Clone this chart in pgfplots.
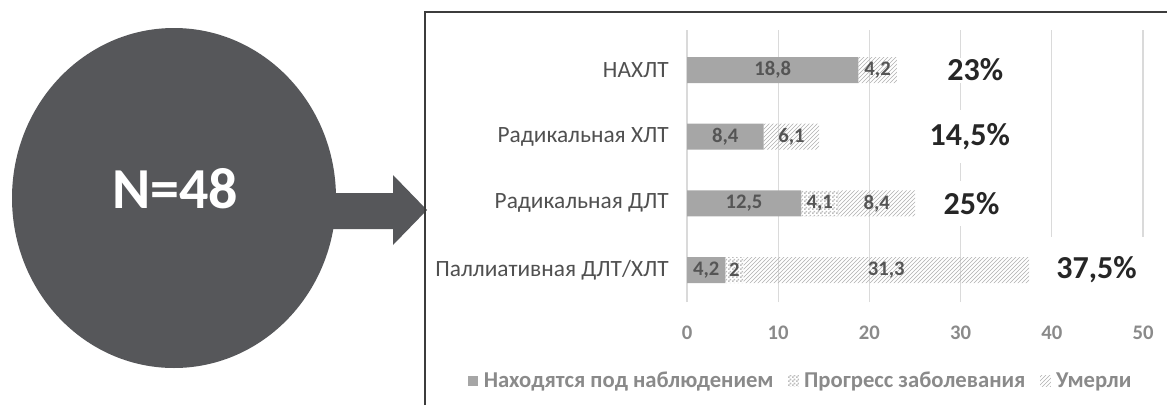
\documentclass[border=0pt]{standalone}
\usepackage{fontspec}
\setmainfont{Carlito}
\usepackage{pgfplots}
\pgfplotsset{compat=1.18}
\usepackage{pgfplotstable}
\usetikzlibrary{patterns}

% fine checkerboard used for the "progress" segments
\pgfdeclarepatternformonly{checks}{\pgfpointorigin}{\pgfqpoint{3pt}{3pt}}%
  {\pgfqpoint{3pt}{3pt}}{%
  \pgfpathrectangle{\pgfpointorigin}{\pgfqpoint{1.5pt}{1.5pt}}%
  \pgfpathrectangle{\pgfqpoint{1.5pt}{1.5pt}}{\pgfqpoint{1.5pt}{1.5pt}}%
  \pgfusepath{fill}}

\definecolor{disc}{HTML}{56575A}
\definecolor{frame}{HTML}{3C3C3C}
\definecolor{obsc}{HTML}{A6A6A6}
\definecolor{hatch}{HTML}{B0B0B0}
\definecolor{dots}{HTML}{BDBDBD}
\definecolor{gridc}{HTML}{DADADA}
\definecolor{catc}{HTML}{505050}
\definecolor{tickc}{HTML}{8A8A8A}
\definecolor{valc}{HTML}{555555}
\definecolor{pctc}{HTML}{262626}

\pgfkeys{/pgf/number format/assume math mode=true}

% y: 0 = bottom row; obs / prog / died are the stacked segments (%)
% pos: where the total is written; bw, bh: size of its white backing box (pt)
\pgfplotstableread{
y obs  prog died pos  bw   bh
0 4.2  2.0  31.3 44.9 82.5 49.5
1 12.5 4.1  8.4  31.2 52.5 33.75
2 8.4  0    6.1  31.0 67.5 39.75
3 18.8 0    4.2  31.6 0    0
}\groups

\begin{document}
\begin{tikzpicture}
\begin{scope}[x=0.75pt,y=0.75pt]
  \useasboundingbox (0,0) rectangle (1167,405);
  % arrow from the disc to the chart
  \fill[disc] (320,212) -- (393,212) -- (393,230) -- (427,195)
              -- (393,160) -- (393,176) -- (320,176) -- cycle;
  % disc with the sample size
  \fill[disc] (174,207) ellipse [x radius=162, y radius=170];
  \node[text=white, font=\fontsize{43.5}{50}\selectfont\bfseries]
       at (175,216) {N=48};
  % frame round the chart
  \draw[frame, line width=1.8pt] (425,0) -- (425,393) -- (1167,393);
\end{scope}

\begin{axis}[
  at={(515.25pt,77.25pt)}, anchor=south west,
  width=342pt, height=204pt, scale only axis,
  xmin=0, xmax=50, ymin=-0.48, ymax=3.6,
  xbar stacked, bar width=19.5pt,
  axis line style={draw=none},
  major tick length=0pt,
  xmajorgrids, grid style={gridc, line width=0.9pt},
  xtick={0,10,...,50},
  ytick={0,1,2,3},
  yticklabels={Паллиативная ДЛТ/ХЛТ, Радикальная ДЛТ, Радикальная ХЛТ, НАХЛТ},
  yticklabel style={font=\fontsize{17.5}{20}\selectfont, text=catc,
                    anchor=east, inner sep=0pt, xshift=-13.5pt},
  xticklabel style={font=\fontsize{15.5}{18}\selectfont\bfseries, text=tickc,
                    anchor=center, inner sep=0pt, yshift=-23.25pt},
  legend columns=3,
  legend style={at={(0.25,-0.29)}, anchor=center, draw=none, fill=none,
                font=\fontsize{17}{20}\selectfont\bfseries, text=tickc,
                /tikz/every odd column/.append style={column sep=2pt},
                /tikz/every even column/.append style={column sep=9pt}},
  legend image code/.code={
    \path[#1, draw=none] (0pt,-4pt) rectangle (8pt,4pt);},
]
\addplot[fill=obsc, draw=none] table[x=obs, y=y] {\groups};
\addplot[pattern=checks, pattern color=dots, draw=none]
  table[x=prog, y=y] {\groups};
\addplot[pattern=north east lines, pattern color=hatch, draw=none]
  table[x=died, y=y] {\groups};
\legend{Находятся под наблюдением, Прогресс заболевания, Умерли}
\end{axis}

% segment values and row totals
\begin{axis}[
  at={(515.25pt,77.25pt)}, anchor=south west,
  width=342pt, height=204pt, scale only axis,
  xmin=0, xmax=50, ymin=-0.48, ymax=3.6,
  hide axis, clip=false,
  /pgf/number format/use comma,
  segval/.style={draw=none, mark=none, point meta=explicit,
    nodes near coords={\pgfmathfloatifflags{\pgfplotspointmeta}{0}{}%
      {\pgfmathprintnumber{\pgfplotspointmeta}}},
    nodes near coords style={anchor=center, text=valc,
      font=\fontsize{15.5}{18}\selectfont\bfseries}},
]
\addplot[segval] table[x expr=\thisrow{obs}/2, y=y, meta=obs] {\groups};
\addplot[segval] table[x expr=\thisrow{obs}+\thisrow{prog}/2, y=y, meta=prog] {\groups};
\addplot[segval] table[x expr=\thisrow{obs}+\thisrow{prog}+\thisrow{died}/2,
                       y=y, meta=died] {\groups};
\addplot[draw=none, mark=none, point meta=explicit,
  visualization depends on={\thisrow{bw} \as \bw},
  visualization depends on={\thisrow{bh} \as \bh},
  nodes near coords={\pgfmathprintnumber{\pgfplotspointmeta}\%},
  nodes near coords style={anchor=center, text=pctc, fill=white,
    inner sep=1pt, minimum width=\bw pt, minimum height=\bh pt,
    font=\fontsize{24}{28}\selectfont\bfseries}]
  table[x=pos, y=y, meta expr=\thisrow{obs}+\thisrow{prog}+\thisrow{died}] {\groups};
\end{axis}
\end{tikzpicture}
\end{document}
